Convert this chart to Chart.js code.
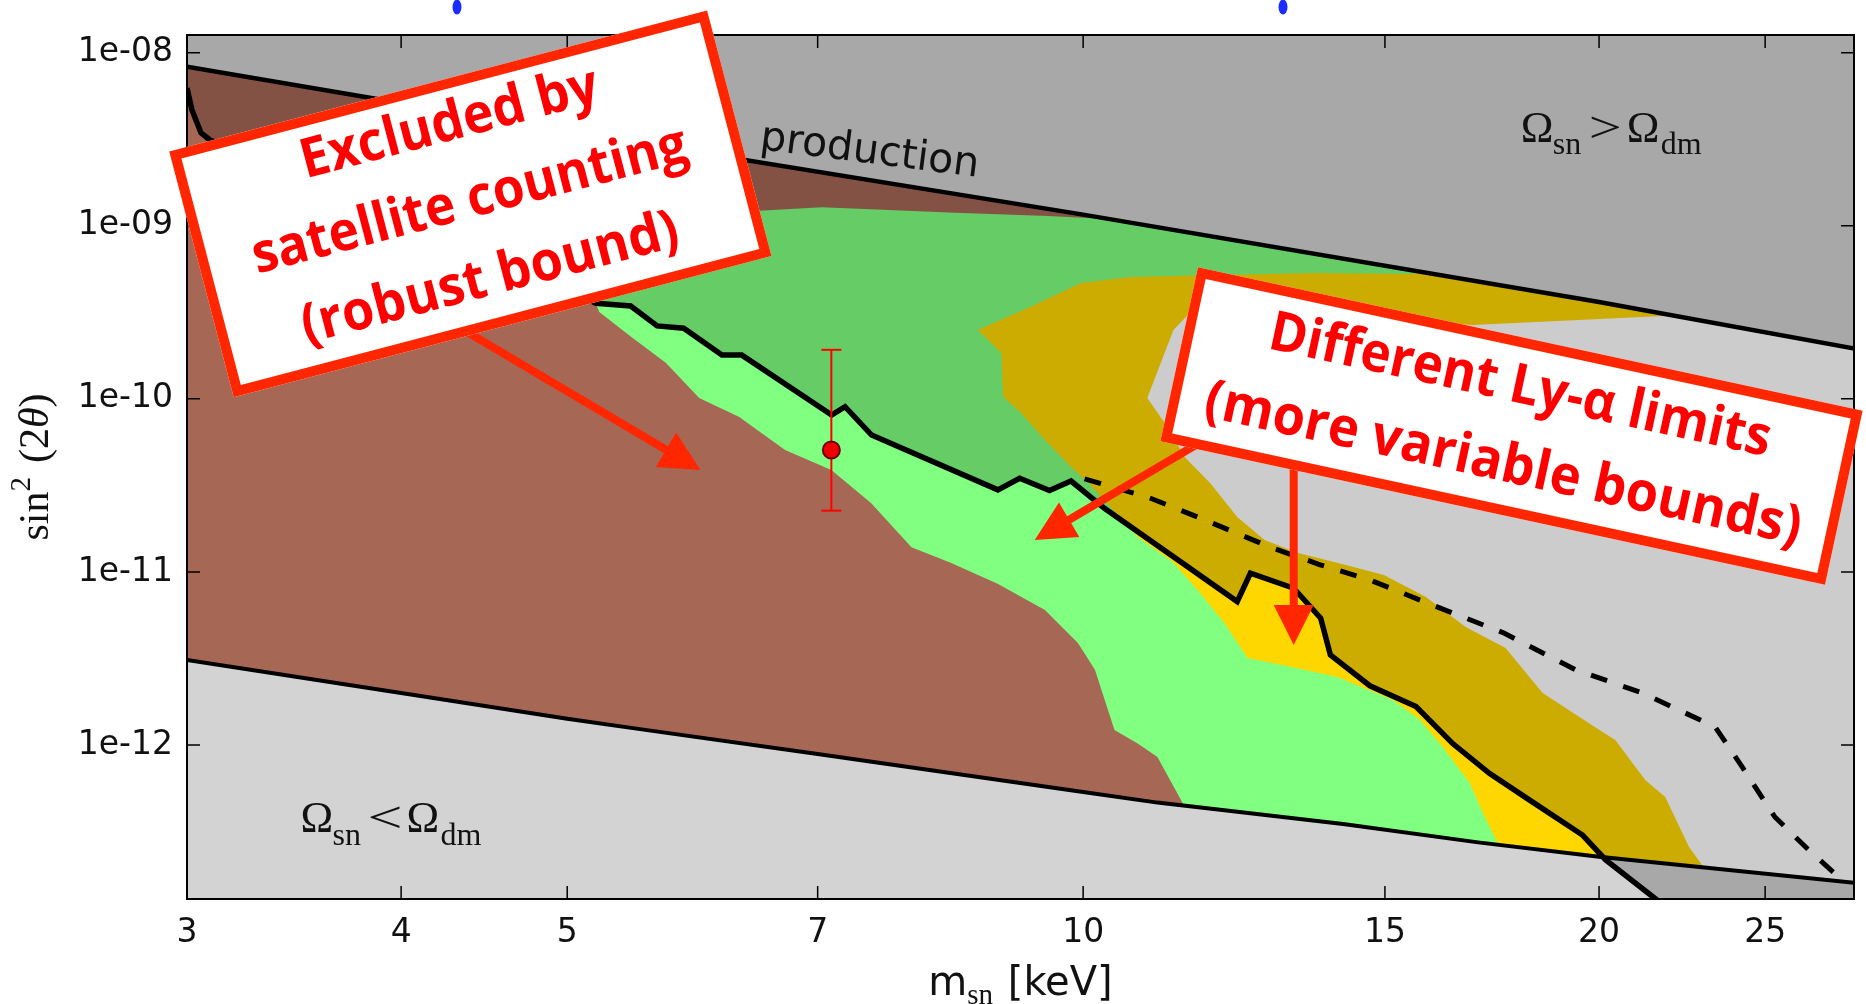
<!DOCTYPE html>
<html>
<head>
<meta charset="utf-8">
<script src="https://cdn.jsdelivr.net/npm/chart.js@4.4.1/dist/chart.umd.min.js"></script>
<style>
html,body{margin:0;padding:0;background:#fff;overflow:hidden;}
canvas{display:block;}
</style>
</head>
<body>
<canvas id="c" width="1866" height="1004"></canvas>
<script>
// ---------------- axis ticks ----------------
const xTickValues = [3, 4, 5, 7, 10, 15, 20, 25];
const xTickLabels = ['3', '4', '5', '7', '10', '15', '20', '25'];
const yTickValues = [1e-8, 1e-9, 1e-10, 1e-11, 1e-12];
const yTickLabels = ['1e-08', '1e-09', '1e-10', '1e-11', '1e-12'];

// ---------------- boundary lines ----------------
// upper production bound (Omega_sn > Omega_dm above)
const prodX = [3, 5, 10, 20, 28.2];
const prodY = [8.3e-9, 3.52e-9, 1.16e-9, 3.63e-10, 1.95e-10];
// lower bound (Omega_sn < Omega_dm below)
const lowX = [3, 4, 5, 5.5, 7, 10, 11.05, 14.18, 17, 20, 28.2];
const lowY = [3.10e-12, 2.0e-12, 1.42e-12, 1.24e-12, 8.88e-13, 5.36e-13, 4.65e-13, 3.50e-13, 2.74e-13, 2.26e-13, 1.60e-13];
// X-ray bound (solid black)
const xrayX = [3.0, 3.02, 3.057, 3.094, 3.4, 3.8, 4.3, 4.8, 5.197, 5.445, 5.642, 5.847, 6.155, 6.322, 7.133, 7.262, 7.526, 8.918, 9.182, 9.558, 9.839, 10.29, 12.30, 12.52, 13.27, 13.76, 13.94, 14.70, 15.64, 16.43, 17.26, 18.21, 19.56, 20.18, 21.58, 22.79, 28.2];
const xrayY = [6.25e-9, 4.67e-9, 3.44e-9, 3.13e-9, 2.2e-9, 1.4e-9, 8.5e-10, 5.2e-10, 3.57e-10, 3.44e-10, 2.64e-10, 2.56e-10, 1.79e-10, 1.79e-10, 8.07e-11, 9.01e-11, 6.18e-11, 2.98e-11, 3.48e-11, 2.95e-11, 3.35e-11, 2.33e-11, 6.74e-12, 9.83e-12, 8.05e-12, 5.40e-12, 3.32e-12, 2.20e-12, 1.67e-12, 1.02e-12, 6.87e-13, 4.82e-13, 3.02e-13, 2.17e-13, 1.29e-13, 8.55e-14, 1e-14];
// dashed bound
const dashX = [10.02, 10.90, 11.66, 12.86, 13.75, 14.70, 16.09, 17.60, 19.38, 21.20, 23.38, 24.24, 25.33, 26.5, 27.72];
const dashY = [3.45e-11, 2.71e-11, 2.08e-11, 1.39e-11, 1.10e-11, 8.99e-12, 6.28e-12, 4.44e-12, 2.72e-12, 2.00e-12, 1.27e-12, 7.47e-13, 3.84e-13, 2.48e-13, 1.66e-13];

// ---------------- excluded regions (outlines) ----------------
// satellite counting (robust) - brown
const satX = [3.0, 10.2, 10.2, 9.54, 8.42, 7.04, 6.55, 5.97, 5.51, 5.22, 5.20, 5.22, 5.45, 5.71, 5.97, 6.30, 6.70, 7.13, 7.52, 7.94, 8.37, 8.92, 9.50, 9.93, 10.16, 10.43, 10.76, 11.05, 11.43, 11.50, 3.0];
const satY = [1.35e-8, 1.41e-9, 1.10e-9, 1.14e-9, 1.19e-9, 1.28e-9, 1.23e-9, 1.17e-9, 9.46e-10, 6.34e-10, 3.49e-10, 3.18e-10, 2.28e-10, 1.61e-10, 1.01e-10, 7.86e-11, 5.07e-11, 3.88e-11, 2.50e-11, 1.39e-11, 1.13e-11, 8.52e-12, 6.03e-12, 3.89e-12, 2.72e-12, 1.22e-12, 1.02e-12, 8.53e-13, 4.63e-13, 3.23e-13, 3.23e-13];
// Ly-alpha bound 1 - green
const greenX = [5.15, 5.36, 10.2, 15.87, 15.60, 13.64, 11.93, 10.66, 9.97, 9.32, 8.68, 8.96, 8.98, 9.20, 9.50, 9.84, 10.10, 10.76, 11.28, 11.66, 12.09, 12.47, 13.21, 14.07, 15.16, 15.72, 16.21, 16.81, 17.11, 17.45, 17.66, 8.92, 5.15];
const greenY = [3.73e-10, 2.74e-9, 1.61e-9, 6.34e-10, 5.27e-10, 5.34e-10, 5.20e-10, 5.06e-10, 4.67e-10, 3.40e-10, 2.50e-10, 1.84e-10, 1.03e-10, 8.29e-11, 5.79e-11, 4.04e-11, 3.18e-11, 1.59e-11, 1.14e-11, 7.87e-12, 5.07e-12, 3.18e-12, 2.83e-12, 2.47e-12, 1.82e-12, 1.40e-12, 9.75e-13, 6.04e-13, 4.05e-13, 2.72e-13, 1.90e-13, 1.90e-13, 1.82e-12];
// Ly-alpha bound 2 - gold
const goldX = [8.12, 8.34, 10.2, 15.66, 21.80, 21.80, 16.88, 13.33, 11.66, 11.29, 10.90, 11.20, 11.46, 11.86, 12.30, 12.76, 13.33, 14.07, 14.98, 15.85, 16.72, 17.64, 18.54, 20.01, 20.44, 21.28, 21.86, 22.57, 22.97, 23.16, 13.33, 10.2];
const goldY = [7.55e-11, 7.25e-10, 1.41e-9, 7.25e-10, 3.73e-10, 3.01e-10, 2.67e-10, 3.05e-10, 3.49e-10, 2.50e-10, 1.01e-10, 6.88e-11, 4.62e-11, 3.27e-11, 2.08e-11, 1.53e-11, 1.29e-11, 1.13e-11, 9.61e-12, 7.17e-12, 4.81e-12, 3.64e-12, 2.00e-12, 1.22e-12, 1.07e-12, 6.29e-13, 5.01e-13, 2.58e-13, 2.03e-13, 1.66e-13, 1.66e-13, 6.89e-12];

// ---------------- 3.5 keV line point ----------------
const pointX = [7.13];
const pointY = [5.07e-11];
const errLow = [2.26e-11];
const errHigh = [1.92e-10];

// ---------------- annotations (data-space anchors) ----------------
const prodLabelAt = {x: 6.47, y: 2.78e-9};
const omegaHiAt = {x: 17.98, y: 3.05e-9};
const omegaLoAt = {x: 3.49, y: 3.15e-13};
const leftBox = {x: 4.39, y: 1.34e-9, w: 556, h: 254, angle: -14.7,
  lines: ['Excluded by', 'satellite counting', '(robust bound)'], offsets: [-82, -2, 78], widths: [306, 448, 388]};
const rightBox = {x: 17.78, y: 6.97e-11, w: 680, h: 178, angle: 12.2,
  lines: ['Different Ly-\u03b1 limits', '(more variable bounds)'], offsets: [-40, 40], widths: [512, 609]};
const arrows = [
  {from: {x: 4.33, y: 2.57e-10}, to: {x: 5.98, y: 3.88e-11}},
  {from: {x: 11.66, y: 5.49e-11}, to: {x: 9.37, y: 1.53e-11}},
  {from: {x: 13.27, y: 4.74e-11}, to: {x: 13.27, y: 3.79e-12}}
];

// ---------------- helpers ----------------
const pts = (xs, ys) => xs.map((x, i) => ({x, y: ys[i]}));
const polyDS = (xs, ys, color, order) => ({
  data: pts(xs, ys), fill: 'shape', backgroundColor: color, borderColor: 'transparent',
  borderWidth: 0, pointRadius: 0, pointHoverRadius: 0, tension: 0, order, clip: 0
});
const lineDS = (xs, ys, width, order, extra) => Object.assign({
  data: pts(xs, ys), fill: false, borderColor: '#000', borderWidth: width,
  pointRadius: 0, pointHoverRadius: 0, tension: 0, order, clip: 0
}, extra || {});

function drawParts(ctx, x, y, parts) {
  for (const p of parts) {
    ctx.font = p.font;
    if (p.w) {
      const m = ctx.measureText(p.t).width;
      ctx.save(); ctx.translate(x + p.at, y + (p.dy || 0)); ctx.scale(p.w / m, 1);
      ctx.fillText(p.t, 0, 0); ctx.restore();
    } else {
      ctx.fillText(p.t, x + p.at, y + (p.dy || 0));
    }
  }
}
function seqParts(ctx, parts) {
  let w = 0;
  for (const p of parts) { ctx.font = p.font; p.w = ctx.measureText(p.t).width; w += p.w + (p.gap || 0); }
  return w;
}

const decorPlugin = {
  id: 'decor',
  afterDatasetsDraw(chart) {
    const {ctx, chartArea: a, scales: {x, y}} = chart;
    ctx.save();
    ctx.beginPath(); ctx.rect(a.left, a.top, a.right - a.left, a.bottom - a.top); ctx.clip();
    // "production" label
    ctx.save();
    ctx.translate(x.getPixelForValue(prodLabelAt.x), y.getPixelForValue(prodLabelAt.y));
    ctx.rotate(7.3 * Math.PI / 180);
    ctx.fillStyle = '#111'; ctx.font = '41px "DejaVu Sans"'; ctx.textBaseline = 'alphabetic'; ctx.textAlign = 'left';
    ctx.fillText('production', 0, 0);
    ctx.restore();
    // Omega labels
    ctx.fillStyle = '#111'; ctx.textBaseline = 'alphabetic'; ctx.textAlign = 'left';
    const big = '44px "Liberation Serif"', sub = '32px "Liberation Serif"';
    drawParts(ctx, x.getPixelForValue(omegaHiAt.x), y.getPixelForValue(omegaHiAt.y), [
      {t: '\u03a9', font: big, at: 1}, {t: 'sn', font: sub, at: 33, dy: 12},
      {t: '>', font: big, at: 69, w: 33}, {t: '\u03a9', font: big, at: 107}, {t: 'dm', font: sub, at: 141, dy: 12}]);
    drawParts(ctx, x.getPixelForValue(omegaLoAt.x), y.getPixelForValue(omegaLoAt.y), [
      {t: '\u03a9', font: big, at: 1}, {t: 'sn', font: sub, at: 33, dy: 13},
      {t: '<', font: big, at: 68, w: 35}, {t: '\u03a9', font: big, at: 107}, {t: 'dm', font: sub, at: 141, dy: 13}]);
    ctx.restore();

    // ticks (inward) and frame
    ctx.save();
    ctx.strokeStyle = '#000'; ctx.lineWidth = 1.5;
    ctx.beginPath();
    for (const v of xTickValues) {
      const p = x.getPixelForValue(v);
      if (p <= a.left + 1 || p >= a.right - 1) continue;
      ctx.moveTo(p, a.bottom); ctx.lineTo(p, a.bottom - 13);
      ctx.moveTo(p, a.top); ctx.lineTo(p, a.top + 13);
    }
    for (const v of yTickValues) {
      const p = y.getPixelForValue(v);
      ctx.moveTo(a.left, p); ctx.lineTo(a.left + 13, p);
      ctx.moveTo(a.right, p); ctx.lineTo(a.right - 13, p);
    }
    ctx.stroke();
    ctx.lineWidth = 2;
    ctx.strokeRect(a.left, a.top, a.right - a.left, a.bottom - a.top);
    ctx.restore();
  },
  afterDraw(chart) {
    const {ctx, chartArea: a, scales: {x, y}} = chart;
    ctx.save();
    ctx.fillStyle = '#111'; ctx.textBaseline = 'alphabetic'; ctx.textAlign = 'left';
    // x-axis title
    const xParts = [
      {t: 'm', font: '40px "DejaVu Sans"'},
      {t: 'sn', font: '29px "Liberation Serif"', dy: 9, gap: 2},
      {t: ' [keV]', font: '40px "DejaVu Sans"'}];
    let w = seqParts(ctx, xParts);
    let cx = (a.left + a.right) / 2 - w / 2;
    for (const p of xParts) { ctx.font = p.font; ctx.fillText(p.t, cx, 995 + (p.dy || 0)); cx += p.w + (p.gap || 0); }
    // y-axis title
    const yParts = [
      {t: 'sin', font: '42px "Liberation Serif"'},
      {t: '2', font: '29px "Liberation Serif"', dy: -18, gap: 14},
      {t: '(2', font: '42px "Liberation Serif"'},
      {t: '\u03b8', font: 'italic 42px "Liberation Serif"'},
      {t: ')', font: '42px "Liberation Serif"'}];
    w = seqParts(ctx, yParts);
    ctx.save();
    ctx.translate(48, (a.top + a.bottom) / 2);
    ctx.rotate(-Math.PI / 2);
    cx = -w / 2;
    for (const p of yParts) { ctx.font = p.font; ctx.fillText(p.t, cx, (p.dy || 0)); cx += p.w + (p.gap || 0); }
    ctx.restore();

    // faint blue fragments at top edge
    ctx.fillStyle = '#1a2cff';
    for (const bx of [457, 1283]) { ctx.beginPath(); ctx.ellipse(bx, 7, 4.5, 7.5, 0, 0, Math.PI * 2); ctx.fill(); }

    // arrows (drawn under boxes)
    const red = '#ff2600';
    for (const ar of arrows) {
      const x1 = x.getPixelForValue(ar.from.x), y1 = y.getPixelForValue(ar.from.y);
      const x2 = x.getPixelForValue(ar.to.x), y2 = y.getPixelForValue(ar.to.y);
      const ang = Math.atan2(y2 - y1, x2 - x1), hl = 40, hw = 20;
      const bx = x2 - Math.cos(ang) * hl, by = y2 - Math.sin(ang) * hl;
      ctx.strokeStyle = red; ctx.lineWidth = 8; ctx.lineCap = 'butt';
      ctx.beginPath(); ctx.moveTo(x1, y1); ctx.lineTo(bx + Math.cos(ang) * 4, by + Math.sin(ang) * 4); ctx.stroke();
      ctx.fillStyle = red;
      ctx.beginPath();
      ctx.moveTo(x2, y2);
      ctx.lineTo(bx + Math.sin(ang) * hw, by - Math.cos(ang) * hw);
      ctx.lineTo(bx - Math.sin(ang) * hw, by + Math.cos(ang) * hw);
      ctx.closePath(); ctx.fill();
    }
    // boxes
    for (const b of [leftBox, rightBox]) {
      ctx.save();
      ctx.translate(x.getPixelForValue(b.x), y.getPixelForValue(b.y));
      ctx.rotate(b.angle * Math.PI / 180);
      ctx.fillStyle = '#fff'; ctx.fillRect(-b.w / 2, -b.h / 2, b.w, b.h);
      ctx.strokeStyle = red; ctx.lineWidth = 10; ctx.lineJoin = 'miter';
      ctx.strokeRect(-b.w / 2 + 5, -b.h / 2 + 5, b.w - 10, b.h - 10);
      ctx.fillStyle = '#ff0000'; ctx.font = '700 55px "Open Sans"';
      ctx.textAlign = 'center'; ctx.textBaseline = 'middle';
      b.lines.forEach((t, i) => {
        const m = ctx.measureText(t).width;
        ctx.save(); ctx.translate(0, b.offsets[i]); ctx.scale(b.widths[i] / m, 1);
        ctx.fillText(t, 0, 0); ctx.restore();
      });
      ctx.restore();
    }
    ctx.restore();
  }
};

new Chart(document.getElementById('c'), {
  type: 'line',
  data: {
    datasets: [
      polyDS(goldX, goldY, '#ffd700', 20),
      polyDS(greenX, greenY, '#80ff80', 19),
      polyDS(satX, satY, '#a66755', 18),
      Object.assign(lineDS(prodX, prodY, 0, 17), {fill: 'end', backgroundColor: '#d3d3d3', borderColor: 'transparent'}),
      Object.assign(lineDS(lowX, lowY, 0, 16), {fill: 'start', backgroundColor: '#d3d3d3', borderColor: 'transparent'}),
      Object.assign(lineDS(xrayX, xrayY, 0, 15), {fill: 'end', backgroundColor: 'rgba(0,0,0,0.2)', borderColor: 'transparent'}),
      lineDS(lowX, lowY, 4, 10),
      lineDS(prodX, prodY, 4.5, 9),
      lineDS(dashX, dashY, 5, 8, {borderDash: [17, 17]}),
      lineDS(xrayX, xrayY, 5.5, 7),
      {data: [{x: pointX[0], y: errLow[0]}, {x: pointX[0], y: errHigh[0]}], borderColor: '#f00', borderWidth: 2,
       pointStyle: 'line', pointRadius: 10, pointBorderColor: '#f00', pointBorderWidth: 2, fill: false, order: 2, clip: 0},
      {data: pts(pointX, pointY), showLine: false, pointRadius: 8.5, pointBackgroundColor: '#ee0000',
       pointBorderColor: '#700000', pointBorderWidth: 2, order: 1, clip: 0}
    ]
  },
  options: {
    responsive: false, devicePixelRatio: 1, animation: false, events: [],
    layout: {padding: {left: 0, right: 8, top: 35, bottom: 0}},
    plugins: {legend: {display: false}, tooltip: {enabled: false}},
    scales: {
      x: {
        type: 'logarithmic', min: 3, max: 28.17,
        grid: {display: false}, border: {display: false},
        afterBuildTicks: s => { s.ticks = xTickValues.map(v => ({value: v})); },
        afterFit: s => { s.height = 105; },
        ticks: {autoSkip: false, maxRotation: 0, minRotation: 0, padding: 7, color: '#111',
          font: {family: 'DejaVu Sans', size: 33}, callback: (v, i) => xTickLabels[i]}
      },
      y: {
        type: 'logarithmic', min: 1.29e-13, max: 1.265e-8,
        grid: {display: false}, border: {display: false},
        afterBuildTicks: s => { s.ticks = yTickValues.map(v => ({value: v})); },
        afterFit: s => { s.width = 187; },
        ticks: {autoSkip: false, padding: 6, color: '#111',
          font: {family: 'DejaVu Sans', size: 33}, callback: (v, i) => yTickLabels[i]}
      }
    }
  },
  plugins: [decorPlugin]
});
</script>
</body>
</html>
